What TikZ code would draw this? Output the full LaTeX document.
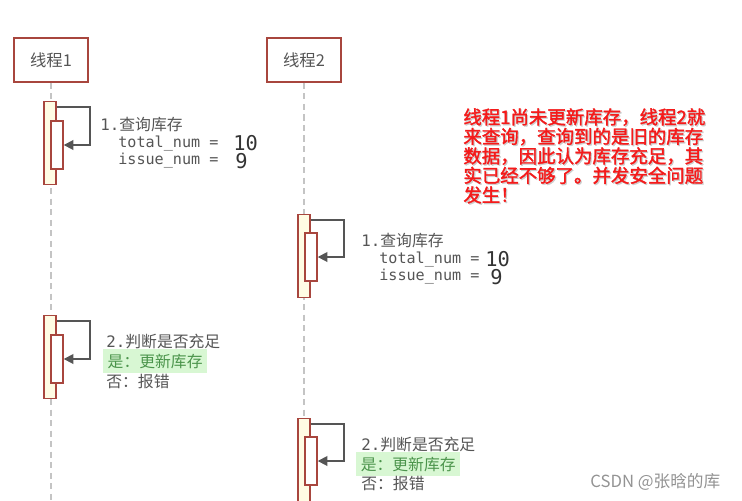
\documentclass[tikz,border=0pt]{standalone}
\usepackage{fontspec}
\setmainfont{Noto Sans CJK SC}
\setmonofont{DejaVu Sans Mono}
\newfontfamily\redfont{Noto Sans CJK SC}[FakeBold=1.8]
\usetikzlibrary{positioning, arrows.meta, calc}
\definecolor{brick}{HTML}{A8463E}
\definecolor{cream}{HTML}{FFFCE4}
\definecolor{ink}{HTML}{555555}
\definecolor{lifegray}{HTML}{C4C4C4}
\definecolor{mint}{HTML}{D8F7D3}
\definecolor{leaf}{HTML}{4B944B}
\definecolor{alarm}{HTML}{F41A1A}

\begin{document}
\begin{tikzpicture}[x=0.02cm, y=-0.02cm,
    thread/.style={draw=brick, line width=0.85pt, fill=white, minimum width=1.48cm,
      minimum height=0.88cm, text=ink, font=\fontsize{9.3}{10}\selectfont},
    outer/.style={draw=brick, line width=0.8pt, fill=cream, minimum width=0.24cm,
      minimum height=1.66cm, inner sep=0pt},
    inner/.style={draw=brick, line width=0.8pt, fill=white, minimum width=0.24cm,
      minimum height=0.96cm, inner sep=0pt},
    life/.style={lifegray, line width=0.6pt, dash pattern=on 3.5pt off 2.5pt},
    msg/.style={ink, line width=1pt, -{Triangle[length=5.5pt, width=5.5pt]}},
    note/.style={text=ink, anchor=west, inner sep=0pt, font=\fontsize{9}{10}\selectfont},
    mono/.style={note, font=\ttfamily\fontsize{8.6}{10}\selectfont},
    big/.style={note, text=ink!60!black, text height=8pt, text depth=0pt,
      font=\ttfamily\fontsize{11.6}{12}\selectfont},
    yes/.style={note, text=leaf, fill=mint, inner xsep=2.5pt, inner ysep=2.6pt}]
  \useasboundingbox (0,0) rectangle (742,500);
  % threads and lifelines
  \node[thread] (t1) at (51,60) {线程1};
  \node[thread] (t2) at (304,60) {线程2};
  \coordinate (e1) at (51,500);
  \coordinate (e2) at (304,500);
  \draw[life] (t1) -- (e1);
  \draw[life] (t2) -- (e2);

  % thread 1: query
  \node[outer] (a1) at (50,143) {};
  \node[inner] (b1) at (57,145) {};
  \draw[msg] ([shift={(0,6)}]a1.north east) -- ++(33,0) |- (b1.east);
  \node[note] (q1) at (100,125) {\texttt{1.}查询库存};
  \node[mono] (tn1) at (118,143) {total\_num =};
  \node[big] (v1) at (233,143) {10};
  \node[mono] (in1) at (118,161) {issue\_num =};
  \node[big] (w1) at (235,161) {9};

  % thread 2: query
  \node[outer] (a2) at (304,256) {};
  \node[inner] (b2) at (311,257) {};
  \draw[msg] ([shift={(0,6)}]a2.north east) -- ++(33,0) |- (b2.east);
  \node[note] (q2) at (361,241) {\texttt{1.}查询库存};
  \node[mono] (tn2) at (379,259) {total\_num =};
  \node[big] (v2) at (485,259) {10};
  \node[mono] (in2) at (379,277) {issue\_num =};
  \node[big] (w2) at (490,277) {9};

  % thread 1: check
  \node[outer] (a3) at (50,357) {};
  \node[inner] (b3) at (57,359) {};
  \draw[msg] ([shift={(0,6)}]a3.north east) -- ++(33,0) |- (b3.east);
  \node[note] (j1) at (106,342) {\texttt{2.}判断是否充足};
  \node[yes] (y1) at (103,361) {是：更新库存};
  \node[note] (n1) at (106,381) {否：报错};

  % thread 2: check
  \node[outer] (a4) at (304,460) {};
  \node[inner] (b4) at (311,461) {};
  \draw[msg] ([shift={(0,6)}]a4.north east) -- ++(33,0) |- (b4.east);
  \node[note] (j2) at (361,444) {\texttt{2.}判断是否充足};
  \node[yes] (y2) at (356,464) {是：更新库存};
  \node[note] (n2) at (361,483) {否：报错};

  % remark
  \node[anchor=north west, align=left, inner sep=0pt, text=gray!40,
    font=\redfont\fontsize{10.5}{11.1}\selectfont] (warnsh) at (464.2,109.2)
    {线程1尚未更新库存，线程2就\\来查询，查询到的是旧的库存\\数据，因此认为库存充足，其\\实已经不够了。并发安全问题\\发生！};
  \node[anchor=north west, align=left, inner sep=0pt, text=alarm,
    font=\redfont\fontsize{10.5}{11.1}\selectfont] (warn) at (463,108)
    {线程1尚未更新库存，线程2就\\来查询，查询到的是旧的库存\\数据，因此认为库存充足，其\\实已经不够了。并发安全问题\\发生！};
  \node[anchor=west, inner sep=0pt, text=gray!85, font=\fontsize{9.5}{11}\selectfont]
    (mark) at (590,482) {CSDN @张晗的库};
\end{tikzpicture}
\end{document}
